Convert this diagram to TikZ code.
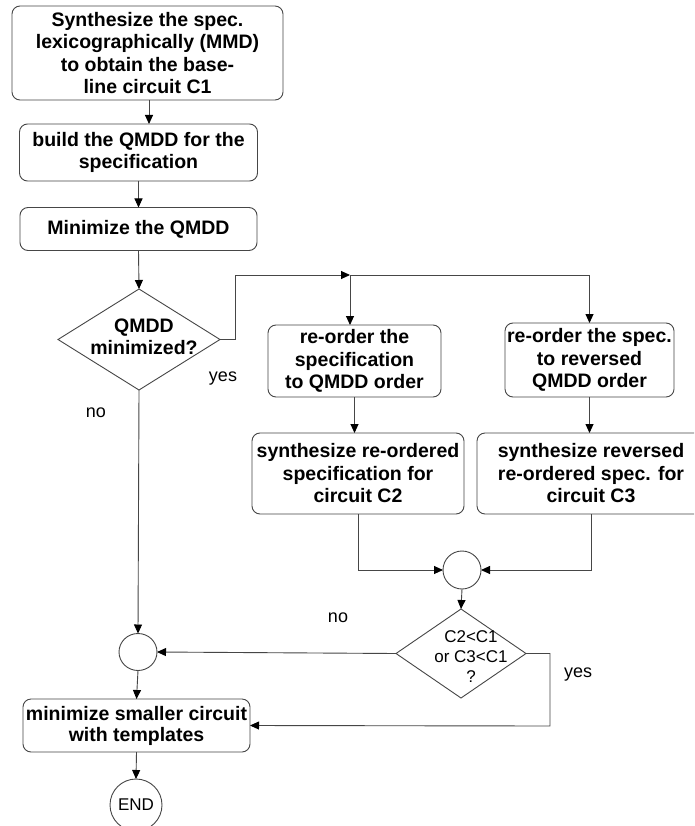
\documentclass[tikz,border=0pt]{standalone}
\usepackage{fontspec}
\setmainfont{Liberation Sans}
\usetikzlibrary{arrows.meta,shapes.geometric}
\definecolor{linegray}{RGB}{70,70,70}
\begin{document}
\begin{tikzpicture}[x=1pt,y=-1pt,
  every node/.style={inner sep=0pt, outer sep=0pt},
  procbox/.style={draw=linegray, line width=0.9pt, rounded corners=8pt, align=center,
    font=\fontsize{19.5}{22.5}\selectfont\bfseries},
  decision/.style={draw=linegray, line width=0.9pt, diamond},
  joint/.style={draw=linegray, line width=0.9pt, ellipse},
  plainlabel/.style={font=\fontsize{18}{20}\selectfont},
  flow/.style={draw=linegray, line width=0.9pt,
    -{Triangle[length=9pt,width=8pt,color=black]}},
  wire/.style={draw=linegray, line width=0.9pt}]
\clip (0,0) rectangle (694,826);
\useasboundingbox (0,0) rectangle (694,826);
\fill[white] (0,0) rectangle (694,826);

% process boxes
\node[procbox, minimum width=271pt, minimum height=94pt] (b1) at (147.5,53)
  {Synthesize the spec.\\lexicographically (MMD)\\to obtain the base-\\line circuit C1};
\node[procbox, minimum width=238pt, minimum height=57pt] (b2) at (138.5,152.5)
  {build the QMDD for the\\specification};
\node[procbox, minimum width=237pt, minimum height=43pt] (b3) at (138.5,229)
  {Minimize the QMDD};
\node[procbox, minimum width=173pt, minimum height=72pt] (b4) at (354.5,361)
  {re-order the\\specification\\to QMDD order};
\node[procbox, minimum width=169pt, minimum height=74pt] (b5) at (589.5,360)
  {re-order the spec.\\to reversed\\QMDD order};
\node[procbox, minimum width=212pt, minimum height=81pt] (b6) at (358,473.5)
  {synthesize re-ordered\\specification for\\circuit C2};
\node[procbox, minimum width=228pt, minimum height=81pt] (b7) at (591,473.5)
  {synthesize reversed\\re-ordered spec. for\\circuit C3};
\node[procbox, minimum width=227pt, minimum height=53pt,
  font=\fontsize{19.5}{21}\selectfont\bfseries] (b8) at (136.5,725.5)
  {minimize smaller circuit\\with templates};

% decisions
\node[decision, minimum width=162pt, minimum height=101pt] (d1) at (139,339.5) {};
\node[align=center, font=\fontsize{19.5}{22.5}\selectfont\bfseries] (d1t) at (144,337)
  {QMDD\\minimized?};
\node[decision, minimum width=130pt, minimum height=89pt] (d2) at (461,653.5) {};
\node[align=center, font=\fontsize{17}{20}\selectfont] (d2t) at (471,657)
  {C2<C1\\or C3<C1\\?};

% joints and terminal
\node[joint, minimum width=38pt, minimum height=38pt] (m1) at (462,570) {};
\node[joint, minimum width=38pt, minimum height=37pt] (m2) at (138,652) {};
\node[joint, minimum width=52pt, minimum height=52pt, font=\fontsize{17}{20}\selectfont] (end) at (136,805) {END};

% branch labels
\node[plainlabel] (yes1) at (223,379) {yes};
\node[plainlabel] (no1) at (96,413) {no};
\node[plainlabel] (no2) at (338,618) {no};
\node[plainlabel] (yes2) at (578,675) {yes};

% routing points
\coordinate (k1) at (235,275);
\coordinate (J) at (350,275);
\coordinate (k2) at (550,726);

% connectors
\draw[flow] (b1.south -| 149,0) -- (149,124);
\draw[flow] (b2.south) -- (b3.north);
\draw[flow] (b3.south) -- (d1.north);
\draw[flow] (d1.east) -| (k1) -- (J);
\draw[flow] (J) -- (J |- b4.north);
\draw[flow] (J) -| (b5.north);
\draw[flow] (b4.south) -- (b4.south |- b6.north);
\draw[flow] (b5.south) -- (b5.south |- b7.north);
\draw[flow] (b6.south) |- (m1.west);
\draw[flow] (b7.south) |- (m1.east);
\draw[flow] (m1.south) -- (d2.north);
\draw[flow] (d2.west) -- (m2.east);
\draw[flow] (d2.east) -| (k2) -- (b8.east);
\draw[flow] (d1.south) -- (m2.north);
\draw[flow] (m2.south) -- (b8.north);
\draw[flow] (b8.south) -- (end.north);
\end{tikzpicture}
\end{document}
